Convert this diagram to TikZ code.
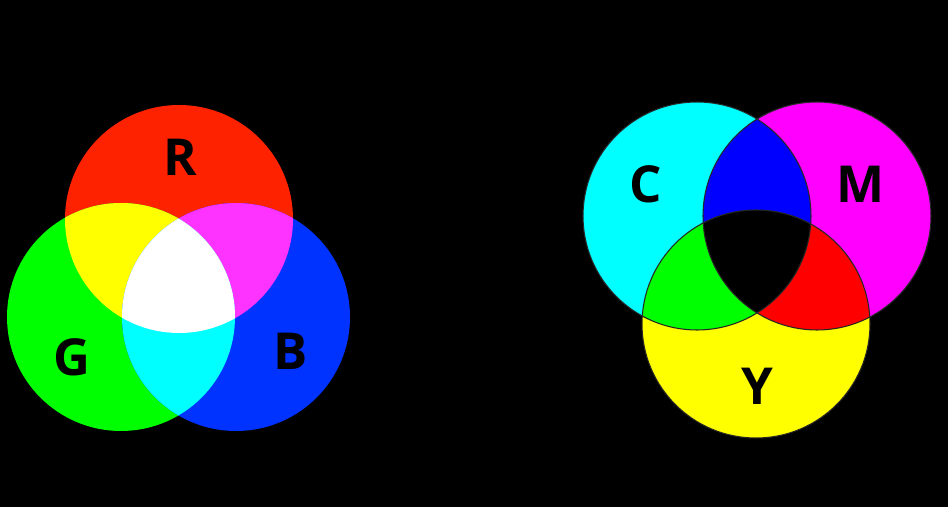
\documentclass[tikz,border=0pt]{standalone}
\usepackage{fontspec}
\setsansfont{Open Sans}
\usepackage{tikz}
\usetikzlibrary{positioning}

\definecolor{lred}{HTML}{FF2200}
\definecolor{lgreen}{HTML}{00FF00}
\definecolor{lblue}{HTML}{0033FF}
\definecolor{lyellow}{HTML}{FFFF00}
\definecolor{lmagenta}{HTML}{FF33FF}
\definecolor{lcyan}{HTML}{00FFFF}
\definecolor{rcyan}{HTML}{00FFFF}
\definecolor{rmagenta}{HTML}{FF00FF}
\definecolor{ryellow}{HTML}{FFFF00}
\definecolor{rblue}{HTML}{0000FF}
\definecolor{rred}{HTML}{FF0000}
\definecolor{rgreen}{HTML}{00FF00}

\begin{document}
\begin{tikzpicture}[
    letter/.style={font=\sffamily\bfseries\fontsize{29}{30}\selectfont, text=black, inner sep=0pt},
    rim/.style={draw=black!85, line width=0.6pt}
]
\fill[black] (0,0) rectangle (18.96,-10.14);
\useasboundingbox (0,0) rectangle (18.96,-10.14);

\def\rad{2.28}
\coordinate (r) at (3.58,-4.38);
\coordinate (g) at (2.42,-6.34);
\coordinate (b) at (4.72,-6.34);

\fill[lred] (r) circle (\rad);
\fill[lgreen] (g) circle (\rad);
\fill[lblue] (b) circle (\rad);
\begin{scope}
  \clip (r) circle (\rad);
  \fill[lyellow] (g) circle (\rad);
  \fill[lmagenta] (b) circle (\rad);
\end{scope}
\begin{scope}
  \clip (g) circle (\rad);
  \fill[lcyan] (b) circle (\rad);
\end{scope}
\begin{scope}
  \clip (r) circle (\rad);
  \clip (g) circle (\rad);
  \fill[white] (b) circle (\rad);
\end{scope}

\node[letter] (R) at (3.6,-3.15) {R};
\node[letter] (G) at (1.44,-7.14) {G};
\node[letter] (B) at (5.82,-7.02) {B};

\coordinate (c) at (13.94,-4.32);
\coordinate (m) at (16.34,-4.32);
\coordinate (y) at (15.12,-6.48);

\fill[rcyan] (c) circle (\rad);
\fill[rmagenta] (m) circle (\rad);
\fill[ryellow] (y) circle (\rad);
\begin{scope}
  \clip (c) circle (\rad);
  \fill[rblue] (m) circle (\rad);
  \fill[rgreen] (y) circle (\rad);
\end{scope}
\begin{scope}
  \clip (m) circle (\rad);
  \fill[rred] (y) circle (\rad);
  \clip (c) circle (\rad);
  \fill[black] (y) circle (\rad);
\end{scope}
\draw[rim] (c) circle (\rad);
\draw[rim] (m) circle (\rad);
\draw[rim] (y) circle (\rad);

\node[letter] (C) at (12.92,-3.68) {C};
\node[letter] (M) at (17.22,-3.69) {M};
\node[letter] (Y) at (15.14,-7.72) {Y};
\end{tikzpicture}
\end{document}
